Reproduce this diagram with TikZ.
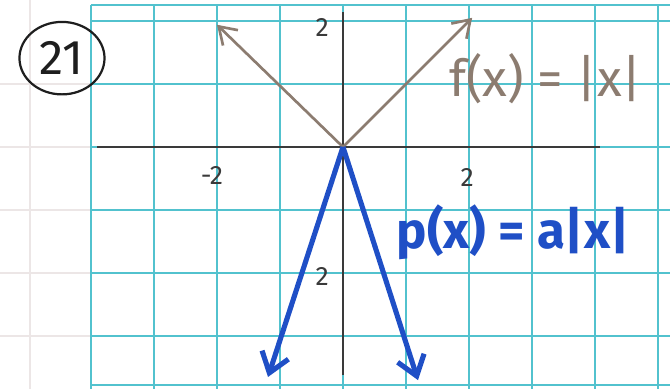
\documentclass[tikz,border=0pt]{standalone}
\usepackage{fontspec}
\setsansfont{Fira Sans}
\usetikzlibrary{positioning,arrows.meta,shapes.geometric}
\definecolor{paper}{HTML}{FFFFFF}
\definecolor{gridc}{HTML}{52C2CE}
\definecolor{faint}{HTML}{ECE6E6}
\definecolor{axisc}{HTML}{3A3A3A}
\definecolor{fcol}{HTML}{8C7C70}
\definecolor{pcol}{HTML}{1F4FC6}
\definecolor{ink}{HTML}{1E1E1E}
\tikzset{
  gridln/.style={draw=gridc, line width=0.9pt},
  faintln/.style={draw=faint, line width=0.6pt},
  axisln/.style={draw=axisc, line width=1.3pt},
  fline/.style={-{Straight Barb[length=2.6mm,width=3.4mm]}, draw=fcol, line width=1.2pt},
  pline/.style={-{Straight Barb[length=3mm,width=4.4mm]}, draw=pcol, line width=2.3pt},
  ticklbl/.style={font=\sffamily\large, text=axisc, inner sep=1pt},
  flbl/.style={font=\sffamily\fontsize{23}{26}\selectfont, text=fcol, inner sep=1pt},
  plbl/.style={font=\sffamily\bfseries\fontsize{23}{26}\selectfont, text=pcol, inner sep=1pt},
  probnum/.style={draw=ink, line width=1pt, ellipse, inner sep=2pt,
                  minimum width=1.35cm, minimum height=1.15cm,
                  font=\sffamily\fontsize{22}{26}\selectfont, text=ink},
}

\begin{document}
\begin{tikzpicture}
  \useasboundingbox[fill=paper] (-5.444,-3.841) rectangle (5.190,2.333);
  % faint paper lines left of the grid
  \foreach \y in {-3,...,1}{ \draw[faintln] (-5.444,\y) -- (-4,\y); }
  \draw[faintln] (-4.97,-3.841) -- (-4.97,2.333);
  % square grid
  \foreach \x in {-4,...,5}{ \draw[gridln] (\x,-3.841) -- (\x,2.25); }
  \foreach \y in {-3,...,2}{ \draw[gridln] (-4,\y) -- (5.190,\y); }
  \draw[gridln] (-4,2.25) -- (5.190,2.25);
  \draw[gridln] (-4,-3.78) -- (5.190,-3.78);
  % axes
  \coordinate (O) at (0,0);
  \coordinate (xl) at (-3.9,0);
  \coordinate (xr) at (4.08,0);
  \coordinate (yt) at (0,2.14);
  \coordinate (yb) at (0,-3.62);
  \draw[axisln] (xl) -- (xr);
  \draw[axisln] (yb) -- (yt);
  % tick labels
  \node[ticklbl] (ytop) at (-0.33,1.89) {2};
  \node[ticklbl] (ybot) at (-0.33,-2.06) {2};
  \node[ticklbl] (xneg) at (-2.08,-0.46) {-2};
  \node[ticklbl] (xpos) at (1.97,-0.49) {2};
  % f(x) = |x|
  \coordinate (fL) at (-2.0,1.94);
  \coordinate (fR) at (2.05,2.05);
  \draw[fline] (O) -- (fL);
  \draw[fline] (O) -- (fR);
  \node[flbl] (flabel) at (3.22,1.08) {f(x) = |x|};
  % p(x) = a|x|
  \coordinate (pL) at (-1.19,-3.65);
  \coordinate (pR) at (1.19,-3.70);
  \draw[pline] (O) -- (pL);
  \draw[pline] (O) -- (pR);
  \node[plbl] (plabel) at (2.70,-1.35) {p(x) = a|x|};
  % problem number
  \node[probnum] (num) at (-4.46,1.41) {21};
\end{tikzpicture}
\end{document}
